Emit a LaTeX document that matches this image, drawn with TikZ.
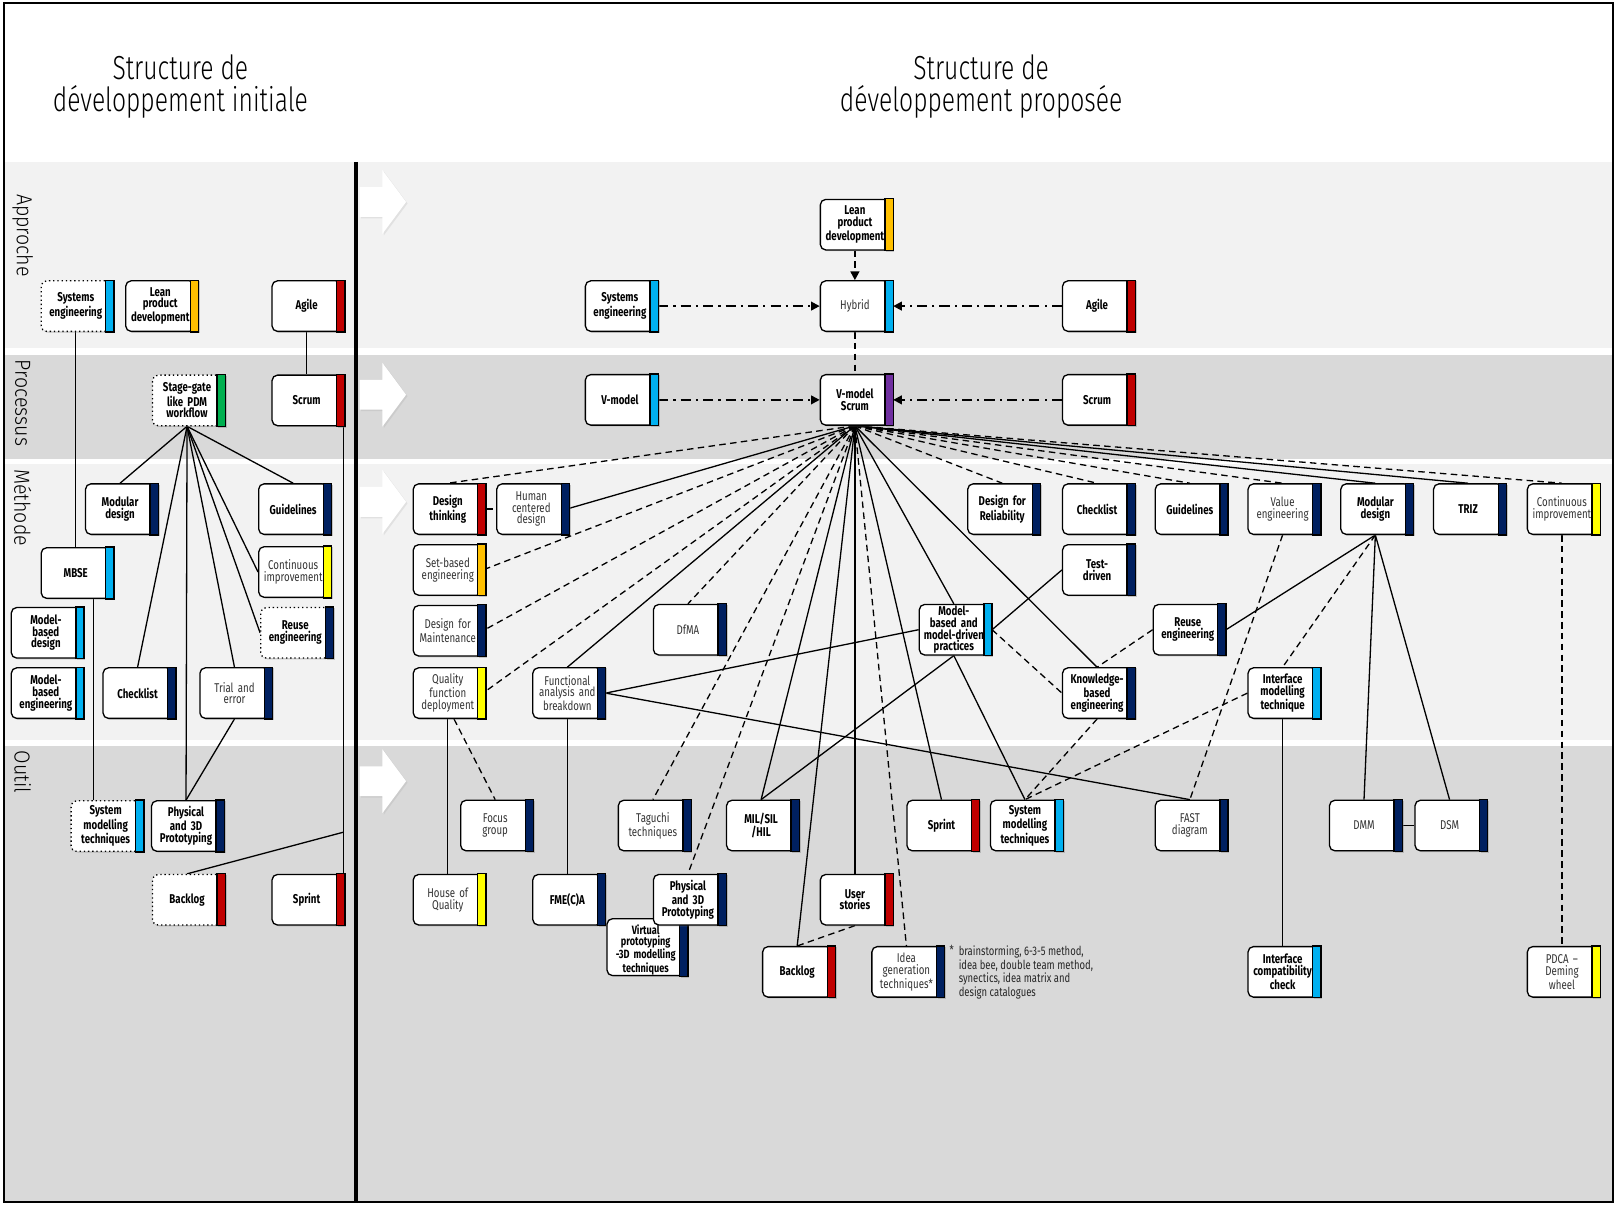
\documentclass[tikz,border=0pt]{standalone}
\usepackage{fontspec}
\setmainfont{Fira Sans}[FakeStretch=0.76]
\newfontfamily\lightfont{Fira Sans Light}[FakeStretch=0.74]
\newfontfamily\bandfont{Fira Sans Light}[FakeStretch=0.9]
\usepackage{xcolor}
\usetikzlibrary{calc, arrows.meta, shadows}

\definecolor{cblue}{HTML}{00B0F0}
\definecolor{cred}{HTML}{C00000}
\definecolor{cnavy}{HTML}{002060}
\definecolor{corange}{HTML}{FFC000}
\definecolor{cyellow}{HTML}{FFFF00}
\definecolor{cgreen}{HTML}{00B050}
\definecolor{cpurple}{HTML}{7030A0}
\definecolor{bandlight}{HTML}{F2F2F2}
\definecolor{banddark}{HTML}{D9D9D9}

\pgfdeclarelayer{bands}
\pgfdeclarelayer{links}
\pgfsetlayers{bands,links,main}

% box with its colour bar on the right
\newcommand{\tbox}[5][]{%
  \node[tb,#1] (#2) at (#3) {#5};
  \draw[bar,fill=#4] ($(#2.north east)+(-5,0)$) rectangle ($(#2.south east)+(3,0)$);
  \coordinate (#2-e) at ($(#2.east)+(3,0)$);
}

\begin{document}
\begin{tikzpicture}[x=0.025cm, y=-0.025cm, >=Stealth,
  tb/.style={draw, line width=0.9pt, fill=white, rounded corners=0.13cm,
    minimum width=1.675cm, minimum height=1.225cm, text width=1.6cm,
    inner sep=0pt, align=center,
    drop shadow={shadow xshift=0.9pt, shadow yshift=-0.9pt, opacity=0.4}},
  bt/.style={font=\bfseries\fontsize{8.8}{8.1}\selectfont},
  rt/.style={font=\fontsize{8.8}{8.1}\selectfont, text=black!80},
  bar/.style={draw, line width=0.9pt,
    drop shadow={shadow xshift=0.9pt, shadow yshift=-0.9pt, opacity=0.4}},
  ln/.style={line width=0.9pt},
  dl/.style={line width=0.9pt, dash pattern=on 4.5pt off 3pt},
  dlt/.style={line width=1.3pt, dash pattern=on 4.5pt off 3pt},
  dda/.style={line width=1.3pt, dash pattern=on 7pt off 3.5pt on 1.5pt off 3.5pt,
    -{Triangle[length=6pt,width=6pt]}},
  bigarrow/.style={fill=white, drop shadow={shadow xshift=1pt, shadow yshift=-1pt, opacity=0.15}},
  title/.style={font=\lightfont\fontsize{23}{21.5}\selectfont, align=center},
  band/.style={font=\bandfont\fontsize{15}{15}\selectfont, rotate=-90, anchor=west, inner sep=0pt},
  foot/.style={font=\fontsize{8.6}{9.6}\selectfont, text=black!85, align=left, inner sep=0pt}]

  \useasboundingbox (0,0) rectangle (1568,1172);

  % --- bands ---
  \begin{pgfonlayer}{bands}
    \fill[bandlight] (5,157) rectangle (1564,338);
    \fill[banddark]  (5,344) rectangle (1564,445);
    \fill[bandlight] (5,450) rectangle (1564,718);
    \fill[banddark]  (5,724) rectangle (1564,1165);
  \end{pgfonlayer}
  \draw[line width=1.2pt] (4,3) rectangle (1565,1166);
  \draw[line width=2.7pt] (345,157) -- (345,1166);

  % titles and band names
  \node[title] (tinit) at (175,84) {Structure de\\développement initiale};
  \node[title] (tprop) at (952,84) {Structure de\\développement proposée};
  \node[band] (lapp) at (22,188) {Approche};
  \node[band] (lpro) at (22,349) {Processus};
  \node[band] (lmet) at (22,455) {Méthode};
  \node[band] (lout) at (22,728) {Outil};

  % white arrows
  \foreach \cy in {196,383,487,758} {
    \path[bigarrow] (349,\cy-14.5) -- (371,\cy-14.5) -- (371,\cy-31) -- (394,\cy)
      -- (371,\cy+31) -- (371,\cy+14.5) -- (349,\cy+14.5) -- cycle;
  }

  % --- initial structure ---
  \tbox[bt,dotted]{seL}{73.5,297}{cblue}{Systems\\engineering}
  \tbox[bt]{lpdL}{155.5,297}{corange}{Lean\\product\\development}
  \tbox[bt]{agileL}{297.5,297}{cred}{Agile}
  \tbox[bt,dotted]{sgL}{181.5,388.5}{cgreen}{Stage-gate\\like PDM\\workflow}
  \tbox[bt]{scrumL}{297.5,388.5}{cred}{Scrum}
  \tbox[bt]{modL}{116.5,494}{cnavy}{Modular\\design}
  \tbox[bt]{guideL}{284.5,494}{cnavy}{Guidelines}
  \tbox[bt]{mbseL}{73.5,556}{cblue}{MBSE}
  \tbox[rt]{ciL}{284.5,555}{cyellow}{Continuous\\improvement}
  \tbox[bt,dotted]{reuseL}{286.5,614}{cnavy}{Reuse\\engineering}
  \tbox[bt]{mbdL}{44.5,614}{cblue}{Model-\\based\\design}
  \tbox[bt]{mbeL}{44.5,672.5}{cblue}{Model-\\based\\engineering}
  \tbox[bt]{checkL}{133.5,672.5}{cnavy}{Checklist}
  \tbox[rt]{trialL}{227.5,672.5}{cnavy}{Trial and\\error}
  \tbox[bt,dotted]{smtL}{102.5,801.5}{cblue}{System\\modelling\\techniques}
  \tbox[bt]{physL}{180.5,801.5}{cnavy}{Physical\\and 3D\\Prototyping}
  \tbox[bt,dotted]{backL}{181.5,873}{cred}{Backlog}
  \tbox[bt]{sprintL}{297.5,873}{cred}{Sprint}

  % --- proposed structure ---
  \tbox[bt]{lpdR}{829.5,218}{corange}{Lean\\product\\development}
  \tbox[bt]{seR}{601.5,297}{cblue}{Systems\\engineering}
  \tbox[rt]{hybrid}{829.5,297}{cblue}{Hybrid}
  \tbox[bt]{agileR}{1064.5,297}{cred}{Agile}
  \tbox[bt]{vmodel}{601.5,388}{cblue}{V-model}
  \tbox[bt]{vms}{829.5,388}{cpurple}{V-model\\Scrum}
  \tbox[bt]{scrumR}{1064.5,388}{cred}{Scrum}

  % methods
  \tbox[bt]{dt}{434.5,494}{cred}{Design\\thinking}
  \tbox[rt]{hcd}{515.5,494}{cnavy}{Human\\centered\\design}
  \tbox[bt]{dfr}{972.5,494}{cnavy}{Design for\\Reliability}
  \tbox[bt]{checkR}{1064.5,494}{cnavy}{Checklist}
  \tbox[bt]{guideR}{1154.5,494}{cnavy}{Guidelines}
  \tbox[rt]{ve}{1244.5,494}{cnavy}{Value\\engineering}
  \tbox[bt]{modR}{1334.5,494}{cnavy}{Modular\\design}
  \tbox[bt]{triz}{1424.5,494}{cnavy}{TRIZ}
  \tbox[rt]{ciR}{1515.5,494}{cyellow}{Continuous\\improvement}
  \tbox[rt]{sbe}{434.5,553}{corange}{Set-based\\engineering}
  \tbox[bt]{td}{1064.5,553}{cnavy}{Test-\\driven}
  \tbox[rt]{dfm}{434.5,612}{cnavy}{Design for\\Maintenance}
  \tbox[rt]{dfma}{667.5,611}{cnavy}{DfMA}
  \tbox[bt]{mbmd}{925.5,611}{cblue}{Model-\\based and\\model-driven\\practices}
  \tbox[bt]{reuseR}{1152.5,611}{cnavy}{Reuse\\engineering}
  \tbox[rt]{qfd}{434.5,672.5}{cyellow}{Quality\\function\\deployment}
  \tbox[rt]{fab}{550.5,672.5}{cnavy}{Functional\\analysis and\\breakdown}
  \tbox[bt]{kbe}{1064.5,672.5}{cnavy}{Knowledge-\\based\\engineering}
  \tbox[bt]{imt}{1244.5,672.5}{cblue}{Interface\\modelling\\technique}

  % tools
  \tbox[rt]{focus}{480.5,801}{cnavy}{Focus\\group}
  \tbox[rt]{taguchi}{633.5,801}{cnavy}{Taguchi\\techniques}
  \tbox[bt]{mil}{738.5,801}{cnavy}{MIL/SIL\\/HIL}
  \tbox[bt]{sprintR}{913.5,801}{cred}{Sprint}
  \tbox[bt]{smtR}{994.5,801}{cblue}{System\\modelling\\techniques}
  \tbox[rt]{fast}{1154.5,801}{cnavy}{FAST\\diagram}
  \tbox[rt]{dmm}{1323.5,801}{cnavy}{DMM}
  \tbox[rt]{dsm}{1406.5,801}{cnavy}{DSM}
  \tbox[rt]{hoq}{434.5,873}{cyellow}{House of\\Quality}
  \tbox[bt]{fmeca}{550.5,873}{cnavy}{FME(C)A}
  \tbox[bt,font=\bfseries\fontsize{8.3}{7.2}\selectfont,minimum width=1.875cm,text width=1.8cm]{vp}{626.5,919}{cnavy}{\rule{0pt}{11pt}Virtual\\prototyping\\-3D modelling\\techniques}
  \tbox[bt]{physR}{667.5,873}{cnavy}{Physical\\and 3D\\Prototyping}
  \tbox[bt]{user}{829.5,873}{cred}{User\\stories}
  \tbox[bt]{backR}{773.5,943}{cred}{Backlog}
  \tbox[rt]{idea}{879.5,943}{cnavy}{Idea\\generation\\techniques*}
  \tbox[bt]{icc}{1244.5,943}{cblue}{Interface\\compatibility\\check}
  \tbox[rt]{pdca}{1515.5,943}{cyellow}{PDCA –\\Deming\\wheel}

  \node[foot, anchor=north west] (fn) at (930,917) {brainstorming, 6-3-5 method,\\idea bee, double team method,\\synectics, idea matrix and\\design catalogues};
  \node[foot, anchor=north east, xshift=-3pt] (fnstar) at (fn.north west) {*};

  % --- connectors ---
  \begin{pgfonlayer}{links}
    % initial structure
    \draw[ln] (seL.south) -- (mbseL.north);
    \draw[ln] ($(mbseL.south)+(17.5,0)$) coordinate (mb) -- (mb |- smtL.north);
    \draw[ln] (agileL.south) -- (scrumL.north);
    \draw[ln] ($(scrumL.south east)+(1.5,0)$) coordinate (sc) -- coordinate[pos=0.907] (sj) (sc |- sprintL.north);
    \draw[ln] (backL.north) -- (sj);
    \foreach \t in {modL.north, guideL.north, checkL.north, physL.north, trialL.north, ciL.west, reuseL.west}
      \draw[ln] (sgL.south) -- (\t);
    \draw[ln] (trialL.south) -- (physL.north);

    % proposed structure: approach and process
    \draw[dda] (seR-e) -- (hybrid.west);
    \draw[dda] (agileR.west) -- (hybrid-e);
    \draw[dda] (vmodel-e) -- (vms.west);
    \draw[dda] (scrumR.west) -- (vms-e);
    \draw[dlt, -{Triangle[length=6pt,width=6pt]}] (lpdR.south) -- (hybrid.north);
    \draw[dlt] (hybrid.south) -- (vms.north);

    % fan from V-model Scrum
    \foreach \t in {dt.north, sbe.east, dfm.east, qfd.east, dfma.north, taguchi.north, physR.north,
        idea.north, dfr.north, checkR.north, guideR.north, ve.north, ciR.north}
      \draw[dl] (vms.south) -- (\t);
    \foreach \t in {hcd.east, fab.north, mil.north, backR.north, user.north, sprintR.north,
        mbmd.north, kbe.north, modR.north, triz.north}
      \draw[ln] (vms.south) -- (\t);

    % methods and tools
    \draw[dl] (dt-e) -- (hcd.west);
    \draw[ln] (qfd.south) -- (hoq.north);
    \draw[dl] ($(qfd.south)+(6,0)$) -- (focus.north);
    \draw[ln] (fab.south) -- (fmeca.north);
    \draw[ln] (fab-e) -- (mbmd.west);
    \draw[ln] (fab-e) -- (fast.north);
    \draw[ln] (mbmd-e) -- (td.west);
    \draw[dl] (mbmd-e) -- (kbe.west);
    \draw[ln] (mbmd.south) -- (mil.north);
    \draw[ln] (mbmd.south) -- (smtR.north);
    \draw[dl] (reuseR.west) -- (kbe.north);
    \draw[ln] (reuseR-e) -- (modR.south);
    \draw[dl] (modR.south) -- (imt.north);
    \draw[ln] (modR.south) -- (dmm.north);
    \draw[ln] (modR.south) -- (dsm.north);
    \draw[dl] (ve.south) -- (fast.north);
    \draw[dl] (kbe.south) -- (smtR.north);
    \draw[dl] (imt.west) -- (smtR.north);
    \draw[ln] (imt.south) -- (icc.north);
    \draw[ln] (dmm-e) -- (dsm.west);
    \draw[dl] (ciR.south) -- (pdca.north);
    \draw[dl] (user.south) -- (backR.north);
  \end{pgfonlayer}
\end{tikzpicture}
\end{document}
